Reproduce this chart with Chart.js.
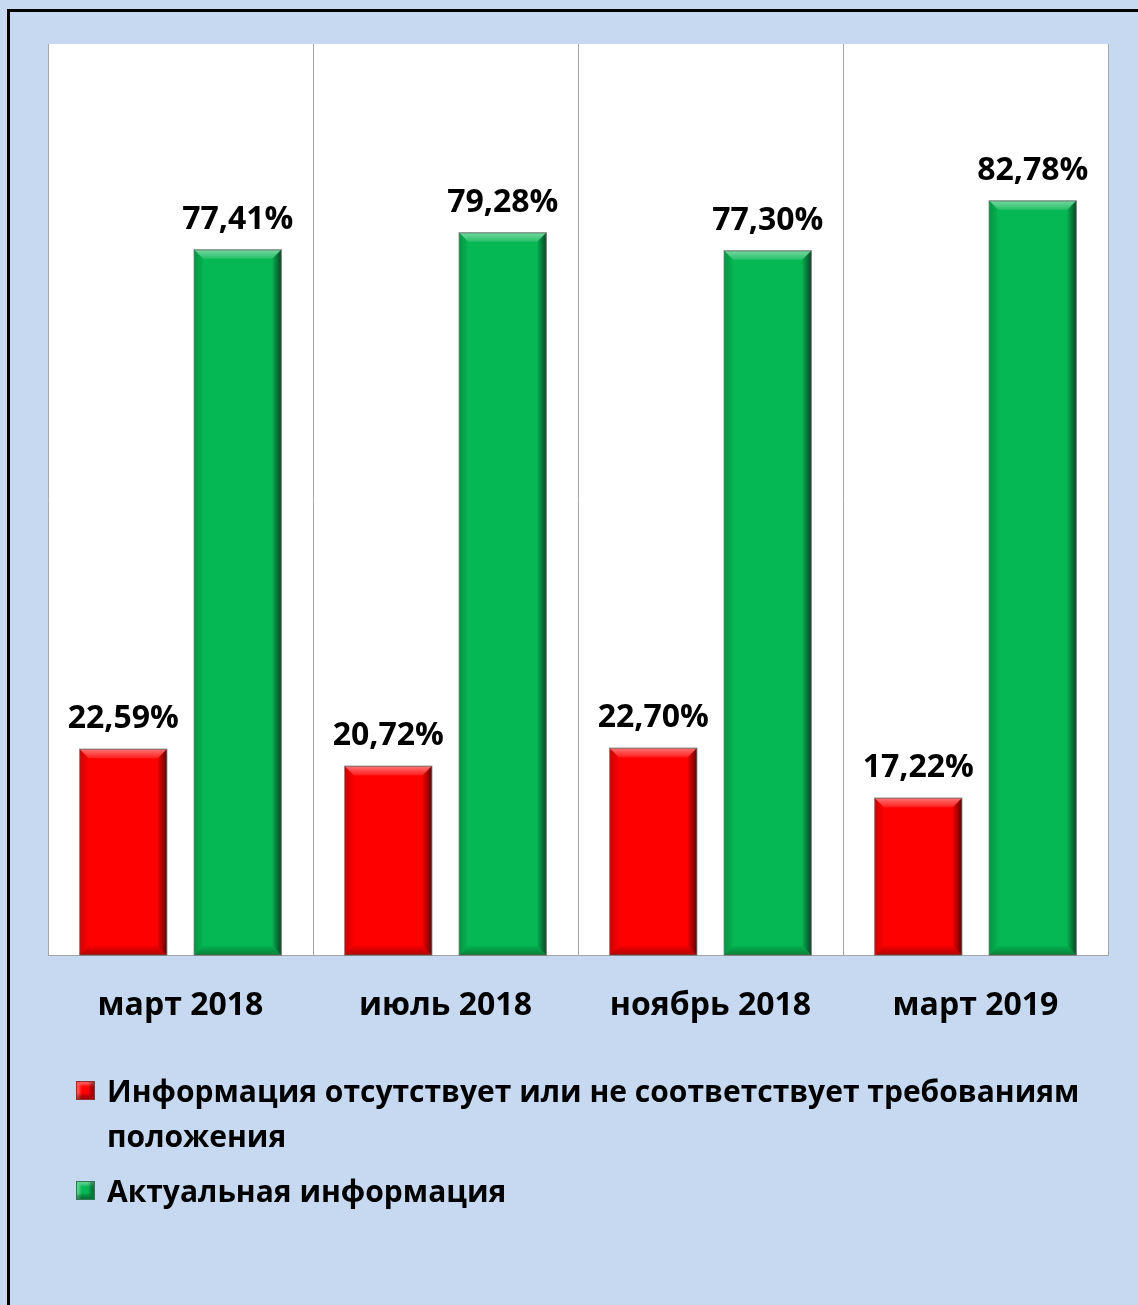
<!DOCTYPE html>
<html>
<head>
<meta charset="utf-8">
<script src="https://cdn.jsdelivr.net/npm/chart.js@4"></script>
<style>
  html, body { margin: 0; padding: 0; }
  body { width: 1138px; height: 1305px; background: #c6d9f0; position: relative; overflow: hidden; font-family: "Open Sans", sans-serif; }
  #frame { position: absolute; left: 7px; top: 9px; width: 1200px; height: 1400px; border-left: 3px solid #000; border-top: 3px solid #000; box-sizing: border-box; }
  #c { position: absolute; left: 0; top: 0; }
  #legend { position: absolute; left: 76px; top: 1068px; width: 1040px; }
  .item { display: flex; align-items: flex-start; margin-bottom: 10px; }
  .box { width: 19px; height: 19px; flex: 0 0 19px; margin-top: 13px; margin-right: 12px; box-sizing: border-box; border: 1px solid rgba(80,80,80,0.6);
         box-shadow: inset -4px -4px 3px rgba(0,0,0,0.35), inset 3px 3px 3px rgba(255,255,255,0.35); }
  .txt { font-weight: bold; font-size: 30px; line-height: 45px; color: #000; }
</style>
</head>
<body>
<div id="frame"></div>
<canvas id="c" width="1138" height="1305"></canvas>
<div id="legend"></div>
<script>
const categories = ['март 2018', 'июль 2018', 'ноябрь 2018', 'март 2019'];
const seriesNames = ['Информация отсутствует или не соответствует требованиям положения', 'Актуальная информация'];
const missingValues = [22.59, 20.72, 22.70, 17.22];
const actualValues = [77.41, 79.28, 77.30, 82.78];
const seriesColors = ['#ff0000', '#06b853'];

const fmt = v => v.toFixed(2).replace('.', ',') + '%';

const plotBg = {
  id: 'plotBg',
  beforeDraw(chart) {
    const { ctx, chartArea: a } = chart;
    ctx.save();
    ctx.fillStyle = '#ffffff';
    ctx.fillRect(a.left, a.top, a.right - a.left, a.bottom - a.top);
    ctx.restore();
  }
};

const bevel = {
  id: 'bevel',
  afterDatasetsDraw(chart) {
    const ctx = chart.ctx;
    chart.data.datasets.forEach((ds, di) => {
      chart.getDatasetMeta(di).data.forEach(bar => {
        const l = bar.x - bar.width / 2, r = bar.x + bar.width / 2, t = bar.y, b = bar.base, w = 9;
        ctx.save();
        let g = ctx.createLinearGradient(0, t, 0, t + w);
        g.addColorStop(0, 'rgba(255,255,255,0.45)');
        g.addColorStop(1, 'rgba(255,255,255,0.12)');
        ctx.fillStyle = g;
        ctx.beginPath(); ctx.moveTo(l, t); ctx.lineTo(r, t); ctx.lineTo(r - w, t + w); ctx.lineTo(l + w, t + w); ctx.closePath(); ctx.fill();
        g = ctx.createLinearGradient(r - w, 0, r, 0);
        g.addColorStop(0, 'rgba(0,0,0,0.05)');
        g.addColorStop(1, 'rgba(0,0,0,0.6)');
        ctx.fillStyle = g;
        ctx.beginPath(); ctx.moveTo(r, t); ctx.lineTo(r, b); ctx.lineTo(r - w, b - w); ctx.lineTo(r - w, t + w); ctx.closePath(); ctx.fill();
        g = ctx.createLinearGradient(0, b - w, 0, b);
        g.addColorStop(0, 'rgba(0,0,0,0.05)');
        g.addColorStop(1, 'rgba(0,0,0,0.3)');
        ctx.fillStyle = g;
        ctx.beginPath(); ctx.moveTo(l, b); ctx.lineTo(r, b); ctx.lineTo(r - w, b - w); ctx.lineTo(l + w, b - w); ctx.closePath(); ctx.fill();
        g = ctx.createLinearGradient(l, 0, l + w, 0);
        g.addColorStop(0, 'rgba(0,0,0,0.2)');
        g.addColorStop(1, 'rgba(0,0,0,0.02)');
        ctx.fillStyle = g;
        ctx.beginPath(); ctx.moveTo(l, t); ctx.lineTo(l + w, t + w); ctx.lineTo(l + w, b - w); ctx.lineTo(l, b); ctx.closePath(); ctx.fill();
        ctx.strokeStyle = 'rgba(90,90,90,0.55)';
        ctx.lineWidth = 1.5;
        ctx.strokeRect(l, t, r - l, b - t);
        ctx.restore();
      });
    });
  }
};

const valueLabels = {
  id: 'valueLabels',
  afterDatasetsDraw(chart) {
    const ctx = chart.ctx;
    ctx.save();
    ctx.font = 'bold 32px "Open Sans"';
    ctx.fillStyle = '#000';
    ctx.textAlign = 'center';
    ctx.textBaseline = 'alphabetic';
    chart.data.datasets.forEach((ds, di) => {
      chart.getDatasetMeta(di).data.forEach((bar, i) => {
        ctx.fillText(fmt(ds.data[i]), bar.x, bar.y - 21);
      });
    });
    ctx.restore();
  }
};

const chart = new Chart(document.getElementById('c'), {
  type: 'bar',
  data: {
    labels: categories,
    datasets: [
      { label: seriesNames[0], data: missingValues, backgroundColor: seriesColors[0] },
      { label: seriesNames[1], data: actualValues, backgroundColor: seriesColors[1] }
    ]
  },
  options: {
    responsive: false,
    animation: false,
    devicePixelRatio: 1,
    layout: { padding: { left: 48, top: 44, right: 30, bottom: 0 } },
    datasets: { bar: { categoryPercentage: 0.864, barPercentage: 0.76 } },
    plugins: { legend: { display: false }, tooltip: { enabled: false } },
    scales: {
      x: {
        grid: { offset: true, color: '#a6a6a6', lineWidth: 1, drawTicks: false },
        border: { color: '#a6a6a6', width: 1 },
        ticks: { color: '#000', font: { family: '"Open Sans"', weight: 'bold', size: 32 }, padding: 32 },
        afterFit(scale) { scale.height = 350; }
      },
      y: { display: false, min: 0, max: 100 }
    }
  },
  plugins: [plotBg, bevel, valueLabels]
});

const legend = document.getElementById('legend');
chart.data.datasets.forEach(ds => {
  const item = document.createElement('div');
  item.className = 'item';
  const box = document.createElement('div');
  box.className = 'box';
  box.style.background = ds.backgroundColor;
  const txt = document.createElement('div');
  txt.className = 'txt';
  txt.textContent = ds.label;
  item.appendChild(box); item.appendChild(txt);
  legend.appendChild(item);
});
</script>
</body>
</html>
